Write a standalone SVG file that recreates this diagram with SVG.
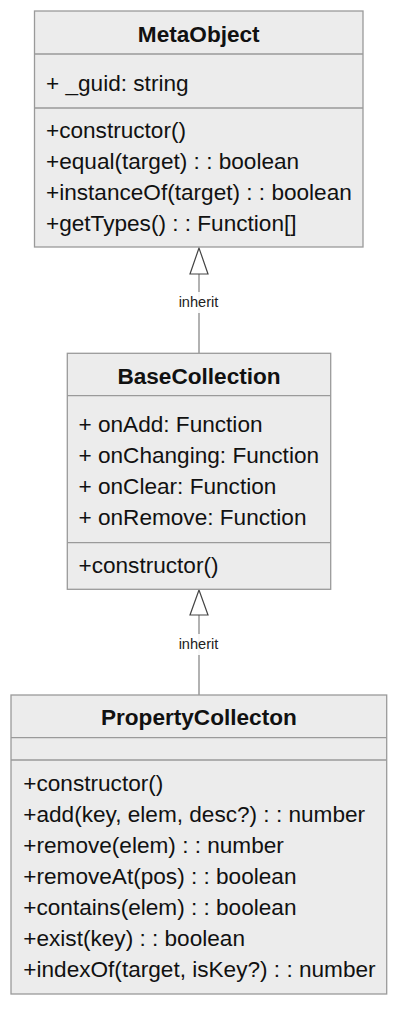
<svg xmlns="http://www.w3.org/2000/svg" width="400" height="1011" viewBox="0 0 400 1011">
<style>
.box{fill:#ececec;stroke:#9a9a9a;stroke-width:1.3}
.div{stroke:#9a9a9a;stroke-width:1.3}
.t{font-family:"Liberation Sans",Arial,Helvetica,sans-serif;font-size:22.6px;fill:#111}
.title{font-weight:bold;text-anchor:middle}
.edge{stroke:#999;stroke-width:1.5;fill:none}
.lblbg{fill:#ffffff;opacity:0.9}
.lbl{font-family:"Liberation Sans",Arial,Helvetica,sans-serif;font-size:14.6px;fill:#222;text-anchor:middle}
.head{fill:#ffffff;stroke:#444;stroke-width:1.2}
</style>
<rect width="400" height="1011" fill="#ffffff"/>
<g id="connectors">
  <g id="edge1">
    <line class="edge" x1="199" y1="274" x2="199" y2="353"/>
    <polygon class="head" points="199,248 190,274 208,274"/>
    <rect class="lblbg" x="177" y="292" width="43" height="21"/>
    <text class="lbl" x="198.5" y="307">inherit</text>
  </g>
  <g id="edge2">
    <line class="edge" x1="199" y1="615" x2="199" y2="695"/>
    <polygon class="head" points="199,590 190,615 208,615"/>
    <rect class="lblbg" x="177" y="634" width="43" height="21"/>
    <text class="lbl" x="198.5" y="649">inherit</text>
  </g>
</g>
<g id="MetaObject">
  <rect class="box" x="34.5" y="11" width="328.5" height="236"/>
  <line class="div" x1="34.5" y1="54" x2="363" y2="54"/>
  <line class="div" x1="34.5" y1="108" x2="363" y2="108"/>
  <text class="t title" x="198.75" y="41.5">MetaObject</text>
  <text class="t" x="46" y="90.5">+ _guid: string</text>
  <text class="t" x="46" y="138">+constructor()</text>
  <text class="t" x="46" y="169">+equal(target) : : boolean</text>
  <text class="t" x="46" y="200">+instanceOf(target) : : boolean</text>
  <text class="t" x="46" y="231">+getTypes() : : Function[]</text>
</g>
<g id="BaseCollection">
  <rect class="box" x="67.3" y="353.3" width="263.4" height="236"/>
  <line class="div" x1="67.3" y1="395.7" x2="330.7" y2="395.7"/>
  <line class="div" x1="67.3" y1="542.7" x2="330.7" y2="542.7"/>
  <text class="t title" x="199" y="383.5">BaseCollection</text>
  <text class="t" x="78.5" y="432">+ onAdd: Function</text>
  <text class="t" x="78.5" y="463">+ onChanging: Function</text>
  <text class="t" x="78.5" y="494">+ onClear: Function</text>
  <text class="t" x="78.5" y="525">+ onRemove: Function</text>
  <text class="t" x="78.5" y="573">+constructor()</text>
</g>
<g id="PropertyCollecton">
  <rect class="box" x="11" y="695" width="375.7" height="299"/>
  <line class="div" x1="11" y1="737.7" x2="386.7" y2="737.7"/>
  <line class="div" x1="11" y1="760" x2="386.7" y2="760"/>
  <text class="t title" x="198.85" y="725">PropertyCollecton</text>
  <text class="t" x="23.3" y="790.5">+constructor()</text>
  <text class="t" x="23.3" y="821.5">+add(key, elem, desc?) : : number</text>
  <text class="t" x="23.3" y="852.5">+remove(elem) : : number</text>
  <text class="t" x="23.3" y="883.5">+removeAt(pos) : : boolean</text>
  <text class="t" x="23.3" y="914.5">+contains(elem) : : boolean</text>
  <text class="t" x="23.3" y="945.5">+exist(key) : : boolean</text>
  <text class="t" x="23.3" y="976.5">+indexOf(target, isKey?) : : number</text>
</g>
</svg>
